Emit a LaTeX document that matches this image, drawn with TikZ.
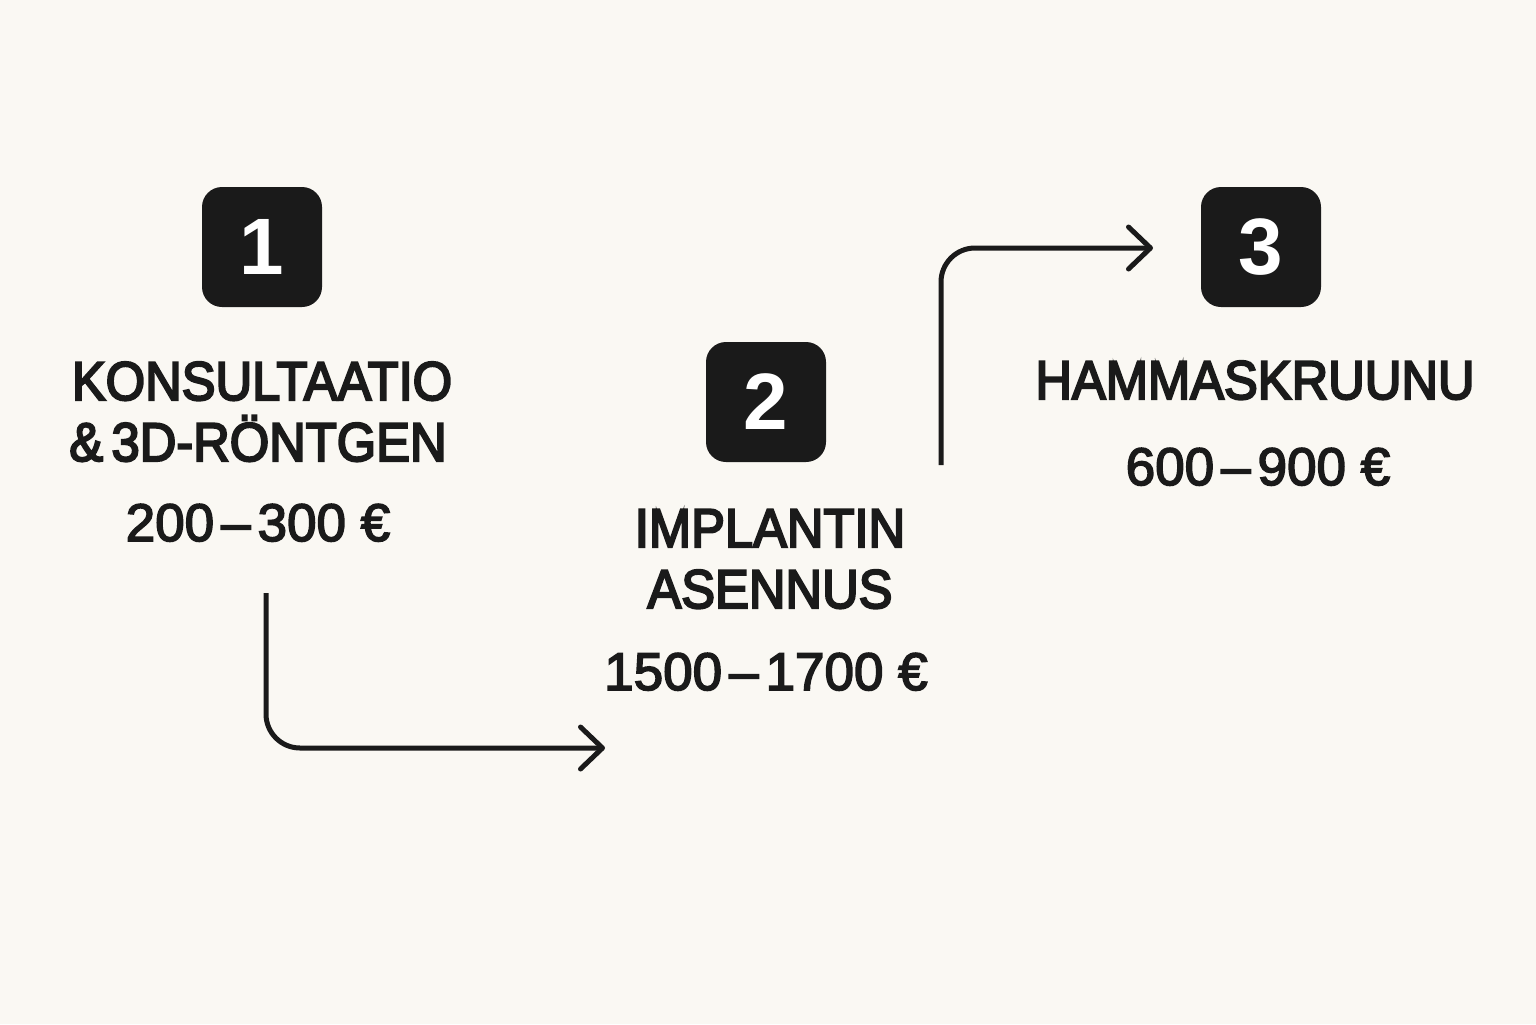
\documentclass[tikz,border=0pt]{standalone}
\usepackage{fontspec}
\usepackage{graphicx}
\setmainfont{Liberation Sans}
\newfontfamily\medfont[FakeBold=3]{Liberation Sans}
\newfontfamily\lblfont[FakeBold=4]{Liberation Sans}
\newcommand{\narrow}[1]{\scalebox{0.93}[1]{#1}}
\usetikzlibrary{arrows.meta}
\definecolor{bg}{RGB}{250,248,243}
\definecolor{ink}{RGB}{26,26,26}
\begin{document}
\begin{tikzpicture}[x=1bp,y=-1bp,
  numbox/.style={fill=ink, rounded corners=20bp, minimum width=120bp, minimum height=120bp,
    inner sep=0pt, text=white, font=\fontsize{80bp}{80bp}\selectfont\bfseries},
  lbl/.style={anchor=base, inner sep=0pt, text=ink, font=\lblfont\fontsize{54.5bp}{60bp}\selectfont},
  prc/.style={anchor=base, inner sep=0pt, text=ink, font=\medfont\fontsize{53bp}{60bp}\selectfont},
  flow/.style={draw=ink, line width=5bp, rounded corners=34bp,
    -{Straight Barb[length=22bp,width=42bp,line width=5bp,round]}}
]
\fill[bg] (0,0) rectangle (1536,1024);
\useasboundingbox (0,0) rectangle (1536,1024);

% step boxes
\node[numbox] (b1) at (262,247) {1};
\node[numbox] (b2) at (766,402) {2};
\node[numbox] (b3) at (1261,247) {3};

% step 1 texts
\node[lbl] (t1a) at (262,400) {\narrow{KONSULTAATIO}};
\node[lbl] (t1b) at (258,461) {\narrow{\&\,3D-RÖNTGEN}};
\node[prc] (p1) at (258,541) {200\kern7bp–\kern7bp300 €};

% step 2 texts
\node[lbl] (t2a) at (770,547) {\narrow{IMPLANTIN}};
\node[lbl] (t2b) at (770,608) {\narrow{ASENNUS}};
\node[prc] (p2) at (766,690) {1500\kern7bp–\kern7bp1700 €};

% step 3 texts
\node[lbl] (t3a) at (1255,399) {\narrow{HAMMASKRUUNU}};
\node[prc] (p3) at (1258,485) {600\kern7bp–\kern7bp900 €};

% connectors
\coordinate (a1s) at (266,593);
\coordinate (a1e) at (605,748);
\coordinate (a2s) at (941,465);
\coordinate (a2e) at (1153,248);
\draw[flow] (a1s) |- (a1e);
\draw[flow] (a2s) |- (a2e);
\end{tikzpicture}
\end{document}
